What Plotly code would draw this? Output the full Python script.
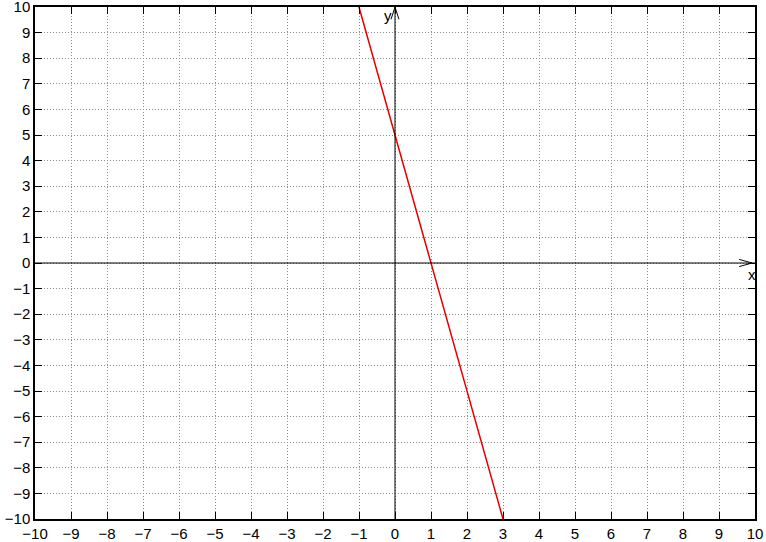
import plotly.graph_objects as go

# Data
line_x = [-1, 0, 1, 2, 3]
line_y = [10, 5, 0, -5, -10]
x_range = [-10, 10]
y_range = [-10, 10]
tick_vals = list(range(-10, 11))

fig = go.Figure()

fig.add_trace(go.Scatter(x=line_x, y=line_y, mode="lines",
                         line=dict(color="#e00000", width=1.5),
                         showlegend=False, hoverinfo="skip", cliponaxis=True))

# axis lines through origin
fig.add_shape(type="line", x0=x_range[0], x1=x_range[1], y0=0, y1=0,
              line=dict(color="black", width=1), xref="x", yref="y")
fig.add_shape(type="line", x0=0, x1=0, y0=y_range[0], y1=y_range[1],
              line=dict(color="black", width=1), xref="x", yref="y")

# arrow heads (open V) drawn in data units
hx_len, hx_half = 0.36, 0.14   # x-axis head
hy_len, hy_half = 0.48, 0.11   # y-axis head
xt = x_range[1] - 0.08
fig.add_shape(type="path",
              path=f"M {xt-hx_len},{hx_half} L {xt},0 L {xt-hx_len},{-hx_half}",
              line=dict(color="black", width=1), xref="x", yref="y")
fig.add_shape(type="path",
              path=f"M {-hy_half},{y_range[1]-hy_len} L 0,{y_range[1]} L {hy_half},{y_range[1]-hy_len}",
              line=dict(color="black", width=1), xref="x", yref="y")

fig.add_annotation(x=xt, y=0, text="x", showarrow=False, xref="x", yref="y",
                   xanchor="center", yanchor="top", yshift=-1,
                   font=dict(size=15, color="black"))
fig.add_annotation(x=0, y=y_range[1], text="y", showarrow=False, xref="x", yref="y",
                   xanchor="right", yanchor="top", xshift=-1, yshift=2,
                   font=dict(size=15, color="black"))

axis_common = dict(
    tickmode="array", tickvals=tick_vals,
    ticks="inside", ticklen=7, tickcolor="black", tickwidth=1,
    showline=True, linecolor="black", linewidth=1.5, mirror="allticks",
    showgrid=True, gridcolor="#8c8c8c", griddash="1px,2px", gridwidth=1,
    zeroline=False, automargin=False, ticklabeloverflow="allow",
    tickfont=dict(family="Liberation Sans, Arial, sans-serif", size=15, color="black"),
)

fig.update_xaxes(range=x_range, **axis_common)
fig.update_yaxes(range=y_range, **axis_common)

fig.update_layout(
    width=766, height=542,
    margin=dict(l=35, r=11, t=7, b=23),
    plot_bgcolor="white", paper_bgcolor="white",
    font=dict(family="Liberation Sans, Arial, sans-serif", size=15, color="black"),
)

fig.write_html("out.html", config={"displayModeBar": False},
               post_script="document.body.style.margin='0';document.body.style.overflow='hidden';")
